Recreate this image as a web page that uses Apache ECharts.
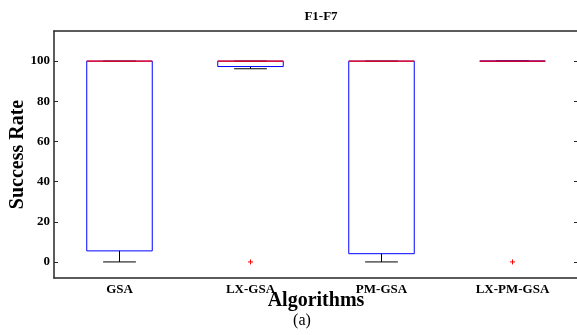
<!DOCTYPE html>
<html><head><meta charset="utf-8">
<script src="https://cdn.jsdelivr.net/npm/echarts@6/dist/echarts.min.js"></script>
<style>html,body{margin:0;padding:0;background:#fff}#c{width:577px;height:335px}</style>
</head><body><div id="c"></div>
<script>
const categories = ['GSA', 'LX-GSA', 'PM-GSA', 'LX-PM-GSA'];
const lowerWhisker = [0, 96.2, 0, 100];
const q1 = [5.5, 97.3, 4.1, 100];
const median = [100, 100, 100, 100];
const q3 = [100, 100, 100, 100];
const upperWhisker = [100, 100, 100, 100];
const outlierCat = [1, 3];
const outlierVal = [0, 0];
const yTicks = [0, 20, 40, 60, 80, 100];

const boxData = categories.map((c, i) => [i, lowerWhisker[i], q1[i], median[i], q3[i], upperWhisker[i]]);
const outData = outlierCat.map((c, i) => [c, outlierVal[i]]);

const font = '"Liberation Serif", "Times New Roman", serif';
const axisColor = '#262626';

const chart = echarts.init(document.getElementById('c'));
chart.setOption({
  animation: false,
  backgroundColor: '#fff',
  title: [
    {text: 'F1-F7', left: 316, top: 5, textAlign: 'center',
     textStyle: {fontFamily: font, fontWeight: 'bold', fontSize: 13, color: '#000'}},
    {text: '(a)', left: 297, top: 308, textAlign: 'center',
     textStyle: {fontFamily: font, fontWeight: 'normal', fontSize: 16, color: '#000'}}
  ],
  grid: {left: 54, right: -1, top: 31, bottom: 57, containLabel: false, outerBoundsMode: 'none'},
  xAxis: [
    {type: 'category', data: categories, position: 'bottom',
     name: 'Algorithms', nameLocation: 'middle', nameGap: 13, nameMoveOverlap: false,
     nameTextStyle: {fontFamily: font, fontWeight: 'bold', fontSize: 20, color: '#000'},
     axisLine: {onZero: false, lineStyle: {color: axisColor, width: 1.5}},
     axisTick: {inside: true, alignWithLabel: true, length: 4, lineStyle: {color: axisColor}},
     axisLabel: {fontFamily: font, fontWeight: 'bold', fontSize: 13, color: '#000', margin: 5},
     splitLine: {show: false}},
    {type: 'category', data: categories, position: 'top',
     axisLine: {onZero: false, lineStyle: {color: axisColor, width: 1.5}},
     axisTick: {inside: true, alignWithLabel: true, length: 4, lineStyle: {color: axisColor}},
     axisLabel: {show: false}, splitLine: {show: false}}
  ],
  yAxis: [
    {type: 'value', min: -8, max: 115, position: 'left',
     name: 'Success Rate', nameLocation: 'middle', nameGap: 26, nameMoveOverlap: false,
     nameTextStyle: {fontFamily: font, fontWeight: 'bold', fontSize: 20, color: '#000'},
     axisLine: {show: true, onZero: false, lineStyle: {color: axisColor, width: 1.5}},
     axisTick: {show: true, inside: true, length: 4, customValues: yTicks, lineStyle: {color: axisColor}},
     axisLabel: {fontFamily: font, fontWeight: 'bold', fontSize: 13, color: '#000', margin: 4, customValues: yTicks},
     splitLine: {show: false}},
    {type: 'value', min: -8, max: 115, position: 'right',
     axisLine: {show: true, onZero: false, lineStyle: {color: axisColor, width: 1.5}},
     axisTick: {show: true, inside: true, length: 4, customValues: yTicks, lineStyle: {color: axisColor}},
     axisLabel: {show: false}, splitLine: {show: false}}
  ],
  series: [
    {type: 'custom', xAxisIndex: 0, yAxisIndex: 0, data: boxData,
     encode: {x: 0, y: [1, 2, 3, 4, 5]},
     renderItem: function (params, api) {
       const x = api.value(0);
       const band = api.size([1, 0])[0];
       const half = band * 0.25;
       const capHalf = band * 0.125;
       const pLow = api.coord([x, api.value(1)]);
       const pQ1 = api.coord([x, api.value(2)]);
       const pMed = api.coord([x, api.value(3)]);
       const pQ3 = api.coord([x, api.value(4)]);
       const pHigh = api.coord([x, api.value(5)]);
       const cx = pMed[0];
       const black = {stroke: '#000', lineWidth: 1};
       return {type: 'group', children: [
         {type: 'line', shape: {x1: cx, y1: pQ1[1], x2: cx, y2: pLow[1]}, style: black},
         {type: 'line', shape: {x1: cx - capHalf, y1: pLow[1], x2: cx + capHalf, y2: pLow[1]}, style: black},
         {type: 'line', shape: {x1: cx, y1: pQ3[1], x2: cx, y2: pHigh[1]}, style: black},
         {type: 'line', shape: {x1: cx - capHalf, y1: pHigh[1], x2: cx + capHalf, y2: pHigh[1]}, style: black},
         {type: 'rect', shape: {x: cx - half, y: pQ3[1], width: half * 2, height: pQ1[1] - pQ3[1]},
          style: {fill: 'none', stroke: '#0000ff', lineWidth: 1}},
         {type: 'line', shape: {x1: cx - half, y1: pMed[1], x2: cx + half, y2: pMed[1]},
          style: {stroke: '#ff0000', lineWidth: 1.2}}
       ]};
     }},
    {type: 'custom', xAxisIndex: 0, yAxisIndex: 0, data: outData,
     encode: {x: 0, y: 1},
     renderItem: function (params, api) {
       const p = api.coord([api.value(0), api.value(1)]);
       const s = 2.5;
       const st = {stroke: '#ff0000', lineWidth: 1};
       return {type: 'group', children: [
         {type: 'line', shape: {x1: p[0] - s, y1: p[1], x2: p[0] + s, y2: p[1]}, style: st},
         {type: 'line', shape: {x1: p[0], y1: p[1] - s, x2: p[0], y2: p[1] + s}, style: st}
       ]};
     }}
  ]
});
</script></body></html>
